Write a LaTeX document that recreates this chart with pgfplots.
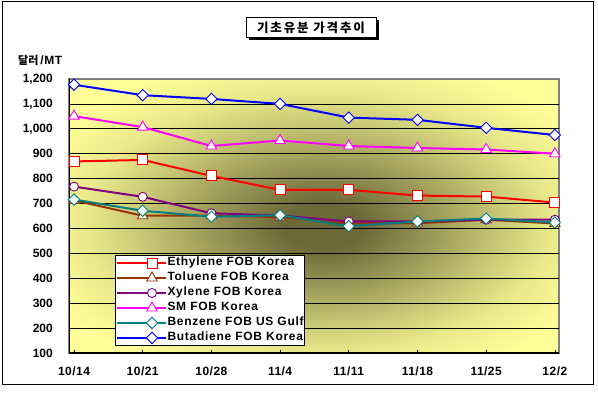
\documentclass[border=0pt]{standalone}
\usepackage{pgfplots}
\pgfplotsset{compat=1.18}
\usepackage{fontspec}
\setmainfont{Liberation Sans}
\newfontfamily\kr{Noto Sans CJK KR}
\definecolor{bgdark}{RGB}{108,104,56}
\definecolor{bgyellow}{RGB}{255,255,153}
\definecolor{bordergray}{RGB}{128,128,128}
\definecolor{cEth}{RGB}{255,0,0}
\definecolor{cTol}{RGB}{153,51,0}
\definecolor{cXyl}{RGB}{128,0,128}
\definecolor{cSM}{RGB}{255,0,255}
\definecolor{cBen}{RGB}{0,128,128}
\definecolor{cBut}{RGB}{0,0,255}
\pgfdeclareradialshading{plotbg}{\pgfpoint{1bp}{-2bp}}{color(0bp)=(bgdark); color(4bp)=(bgdark); color(12bp)=(bgyellow!35!bgdark); color(18bp)=(bgyellow!62!bgdark); color(24bp)=(bgyellow!86!bgdark); color(31bp)=(bgyellow); color(50bp)=(bgyellow)}
\begin{document}
\begin{tikzpicture}[x=1pt,y=1pt]
\useasboundingbox (0,0) rectangle (598,393);
\draw[line width=1pt] (2.5,8.5) rectangle (593.5,391.5);
% title box with shadow
\fill[black] (249,353) rectangle (378.5,373);
\draw[fill=white, line width=1pt] (246.5,355.5) rectangle (376,375.5);
\node at (311,365.5) {\kr\bfseries\fontsize{12.5}{14}\selectfont\addfontfeature{LetterSpace=15}기초유분 가격추이};
\node[anchor=west, inner sep=0pt] at (18,333) {\kr\bfseries\fontsize{11}{13}\selectfont 달러\hspace{2pt}\rmfamily\bfseries\fontsize{12}{13}\selectfont\addfontfeature{LetterSpace=5}/MT};
\begin{axis}[
  at={(69pt,40pt)}, anchor=south west,
  width=490pt, height=274pt, scale only axis,
  xmin=-0.073, xmax=7.06,
  ymin=100, ymax=1200,
  xtick={0,1,2,3,4,5,6,7},
  xticklabels={10/14,10/21,10/28,11/4,11/11,11/18,11/25,12/2},
  ytick={100,200,300,400,500,600,700,800,900,1000,1100},
  extra y ticks={1200},
  extra y tick style={grid=none},
  /pgf/number format/1000 sep={,},
  /pgf/number format/assume math mode=true,
  ticklabel style={font=\bfseries\fontsize{12}{14}\selectfont},
  yticklabel style={inner sep=0pt, xshift=-16pt},
  xticklabel style={inner sep=0pt, yshift=-14pt, font=\bfseries\fontsize{12}{14}\selectfont\addfontfeature{LetterSpace=4}},
  ytick style={draw=none},
  xtick style={black, line width=0.6pt},
  tick align=inside,
  major tick length=3pt,
  axis x line*=bottom, axis y line*=left,
  ymajorgrids,
  major grid style={black, line width=0.8pt},
  axis line style={black, line width=1pt, -},
  axis background/.style={shade, shading=plotbg, draw=bordergray, line width=2pt},
  every axis plot/.append style={line width=2pt},
  legend style={at={(0.0939,0.3577)}, anchor=north west, draw=black, line width=1pt, fill=white,
    inner xsep=0pt, inner ysep=0pt, row sep=0pt,
    font=\bfseries\fontsize{12}{13}\selectfont\addfontfeature{LetterSpace=6},
    nodes={inner xsep=1pt, inner ysep=0pt, text height=10.5pt, text depth=4.5pt}},
  legend cell align=left,
  legend image code/.code={\path (0pt,0pt) -- (22pt,0pt);
    \draw[mark repeat=2, mark phase=2, #1, line width=2pt] plot coordinates {(22pt,0pt) (35.5pt,0pt) (49pt,0pt)};},
]
\addplot[color=cEth, mark=square*, mark size=5pt, mark options={solid, fill=white, line width=0.9pt}] coordinates {(0,869) (1,875) (2,811) (3,755) (4,755) (5,732) (6,728) (7,704)};
\addlegendentry{Ethylene FOB Korea}
\addplot[color=cTol, mark=triangle*, mark size=6pt, mark options={solid, fill=white, line width=0.9pt}] coordinates {(0,713) (1,651) (2,651) (3,646) (4,620) (5,621) (6,635) (7,620)};
\addlegendentry{Toluene FOB Korea}
\addplot[color=cXyl, mark=*, mark size=4.5pt, mark options={solid, fill=white, line width=0.9pt}] coordinates {(0,768) (1,727) (2,661) (3,652) (4,628) (5,628) (6,635) (7,635)};
\addlegendentry{Xylene FOB Korea}
\addplot[color=cSM, mark=triangle*, mark size=6pt, mark options={solid, fill=white, line width=0.9pt}] coordinates {(0,1051) (1,1007) (2,931) (3,953) (4,931) (5,923) (6,917) (7,900)};
\addlegendentry{SM FOB Korea}
\addplot[color=cBen, mark=square*, mark size=4pt, mark options={solid, fill=white, line width=0.9pt, rotate=45}] coordinates {(0,716) (1,671) (2,647) (3,653) (4,609) (5,628) (6,640) (7,624)};
\addlegendentry{Benzene FOB US Gulf}
\addplot[color=cBut, mark=square*, mark size=4pt, mark options={solid, fill=white, line width=0.9pt, rotate=45}] coordinates {(0,1177) (1,1135) (2,1120) (3,1100) (4,1045) (5,1036) (6,1004) (7,975)};
\addlegendentry{Butadiene FOB Korea}
\end{axis}
\end{tikzpicture}
\end{document}
